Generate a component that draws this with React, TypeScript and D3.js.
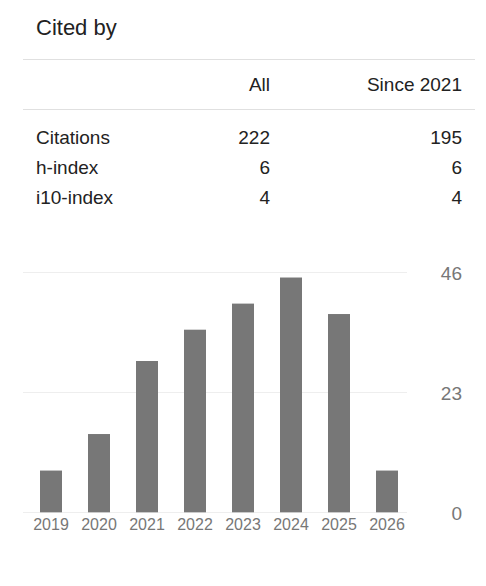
import * as d3 from "d3";
import { useEffect } from "react";

const years = ["2019", "2020", "2021", "2022", "2023", "2024", "2025", "2026"];
const citations = [8, 15, 29, 35, 40, 45, 38, 8];
const yTicks = [0, 23, 46];

const columns = ["All", "Since 2021"];
const rowLabels = ["Citations", "h-index", "i10-index"];
const allValues = [222, 6, 4];
const sinceValues = [195, 6, 4];

const FONT = "Arial, 'Liberation Sans', sans-serif";

export default function App() {
  useEffect(() => {
    document.body.style.margin = "0";
  }, []);

  const W = 486;
  const H = 586;

  const x = d3
    .scaleBand<string>()
    .domain(years)
    .range([27, 411])
    .paddingInner(26 / 48)
    .paddingOuter(13 / 48);
  const y = d3.scaleLinear().domain([0, 46]).range([512.3, 272.3]);

  const colRight = [270, 462];
  const rowBase = [144, 174, 203.5];

  return (
    <svg width={W} height={H} style={{ display: "block", background: "#fff" }} fontFamily={FONT}>
      <text x={36} y={35} fontSize={22} fill="#222">
        Cited by
      </text>
      <line x1={23} x2={475} y1={59.5} y2={59.5} stroke="#e0e0e0" />
      <line x1={23} x2={475} y1={109.5} y2={109.5} stroke="#e0e0e0" />
      {columns.map((c, i) => (
        <text key={c} x={colRight[i]} y={91} fontSize={19} fill="#222" textAnchor="end">
          {c}
        </text>
      ))}
      {rowLabels.map((r, i) => (
        <g key={r} fontSize={19} fill="#222">
          <text x={36} y={rowBase[i]}>
            {r}
          </text>
          <text x={colRight[0]} y={rowBase[i]} textAnchor="end">
            {allValues[i]}
          </text>
          <text x={colRight[1]} y={rowBase[i]} textAnchor="end">
            {sinceValues[i]}
          </text>
        </g>
      ))}

      {yTicks.map((t) => (
        <g key={t}>
          <line x1={23} x2={407} y1={Math.round(y(t)) + 0.5} y2={Math.round(y(t)) + 0.5} stroke="#eee" />
          <text x={462} y={y(t)} dy={8} fontSize={19} fill="#777" textAnchor="end">
            {t}
          </text>
        </g>
      ))}

      {years.map((yr, i) => (
        <rect
          key={yr}
          x={x(yr)}
          y={y(citations[i])}
          width={x.bandwidth()}
          height={y(0) - y(citations[i])}
          fill="#777"
        />
      ))}

      {years.map((yr) => (
        <text key={yr} x={(x(yr) ?? 0) + x.bandwidth() / 2} y={530} fontSize={16} fill="#777" textAnchor="middle">
          {yr}
        </text>
      ))}
    </svg>
  );
}
